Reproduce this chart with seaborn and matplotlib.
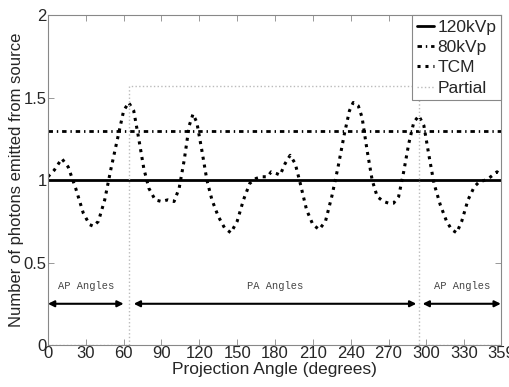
import numpy as np
import pandas as pd
import matplotlib
matplotlib.use("Agg")
import matplotlib.pyplot as plt
import seaborn as sns

# --- data ---
angle_tcm = [0, 5, 11, 16, 22, 28, 33, 36, 40, 45, 50, 56, 60, 64, 68, 72, 76, 80, 85, 90,
             95, 100, 104, 108, 112, 115, 118, 122, 126, 130, 135, 140, 145, 150, 155, 160,
             165, 170, 174, 177, 181, 184, 188, 192, 196, 200, 205, 210, 215, 220, 225, 230,
             235, 239, 242, 246, 249, 253, 257, 261, 266, 270, 274, 278, 282, 286, 290, 294,
             298, 302, 306, 311, 316, 320, 324, 328, 333, 338, 342, 347, 351, 356, 359]
photons_tcm = [1.02, 1.06, 1.13, 1.08, 0.95, 0.80, 0.73, 0.72, 0.75, 0.88, 1.07, 1.28, 1.42,
               1.47, 1.42, 1.25, 1.07, 0.95, 0.88, 0.87, 0.88, 0.87, 0.95, 1.12, 1.33, 1.40,
               1.35, 1.18, 1.00, 0.88, 0.78, 0.71, 0.68, 0.75, 0.88, 0.98, 1.01, 1.02, 1.02,
               1.05, 1.04, 1.03, 1.10, 1.15, 1.10, 0.98, 0.82, 0.73, 0.70, 0.75, 0.90, 1.08,
               1.28, 1.42, 1.47, 1.45, 1.38, 1.18, 1.00, 0.90, 0.87, 0.86, 0.86, 0.90, 1.05,
               1.22, 1.35, 1.39, 1.33, 1.15, 0.98, 0.85, 0.75, 0.70, 0.68, 0.75, 0.88, 0.96,
               0.99, 1.00, 1.02, 1.05, 1.03]

angle_flat = [0, 359]
photons_120 = [1.0, 1.0]
photons_80 = [1.3, 1.3]

angle_partial = [0, 64, 64, 294, 294, 359]
photons_partial = [0, 0, 1.57, 1.57, 0, 0]

xticks = [0, 30, 60, 90, 120, 150, 180, 210, 240, 270, 300, 330, 359]
yticks = [0, 0.5, 1, 1.5, 2]
ytick_labels = ["0", "0.5", "1", "1.5", "2"]

# angular ranges for the annotation arrows
ranges = [(0, 60, "AP Angles"), (68, 292, "PA Angles"), (297, 359, "AP Angles")]

sns.set_style("ticks")
plt.rcParams['font.family'] = ['Liberation Sans', 'DejaVu Sans']

fig = plt.figure(figsize=(5.1, 3.87), dpi=100)
ax = fig.add_axes([0.094, 0.1085, 0.888, 0.8525])

sns.lineplot(x=angle_flat, y=photons_120, ax=ax, color='black', linewidth=2,
             linestyle='-', label='120kVp')
sns.lineplot(x=angle_flat, y=photons_80, ax=ax, color='black', linewidth=2,
             linestyle=(0, (1.6, 1.4, 0.5, 1.4)), label='80kVp')
sns.lineplot(x=angle_tcm, y=photons_tcm, ax=ax, color='black', linewidth=2.2,
             linestyle=(0, (1, 1.6)), label='TCM', estimator=None, sort=False)
sns.lineplot(x=angle_partial, y=photons_partial, ax=ax, color='#bbbbbb', linewidth=1,
             linestyle=':', label='Partial', estimator=None, sort=False)

for start, end, name in ranges:
    ax.annotate('', xy=(start, 0.25), xytext=(end, 0.25),
                arrowprops=dict(arrowstyle='<|-|>', color='black', lw=1.5,
                                mutation_scale=9, shrinkA=0, shrinkB=0))
    ax.text((start + end) / 2, 0.33, name, ha='center', va='bottom',
            fontsize=7.5, family='Liberation Mono', color='#444444')

ax.set_xlim(0, 359)
ax.set_ylim(0, 2)
ax.set_xticks(xticks)
ax.set_xticklabels([str(t) for t in xticks])
ax.set_yticks(yticks)
ax.set_yticklabels(ytick_labels)
ax.tick_params(direction='in', top=True, right=True, length=4, width=0.6,
               labelsize=12, color='#888888', pad=1)
for s in ax.spines.values():
    s.set_color('#888888')
    s.set_linewidth(0.8)

ax.set_xlabel('Projection Angle (degrees)', fontsize=12.5, labelpad=0.5)
ax.set_ylabel('Number of photons emitted from source', fontsize=12, labelpad=0)

leg = ax.legend(loc='upper right', fontsize=12.5, handlelength=1.0, handletextpad=0.2,
                borderpad=0.25, labelspacing=0.3, borderaxespad=0, fancybox=False,
                framealpha=1)
leg.get_frame().set_edgecolor('#888888')
leg.get_frame().set_linewidth(0.8)

fig.savefig('out.png', dpi=100)
